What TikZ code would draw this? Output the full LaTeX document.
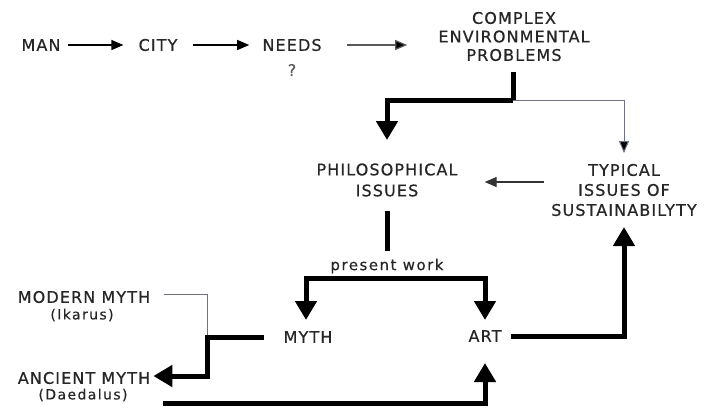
\documentclass[tikz,border=0pt]{standalone}
\usepackage{fontspec}
\newfontfamily\labfont[LetterSpace=7,FakeBold=0.6]{DejaVu Sans}
\newfontfamily\smallfont[LetterSpace=10,FakeBold=0.4]{DejaVu Sans}
\usetikzlibrary{arrows.meta}
\definecolor{linegray}{RGB}{110,114,130}
\begin{document}
\begin{tikzpicture}[x=1pt,y=-1pt,
  lab/.style={font=\labfont\fontsize{16}{20}\selectfont, inner sep=2pt, align=center, text=black!85},
  sub/.style={font=\smallfont\fontsize{14}{16}\selectfont, inner sep=1pt, align=center, text=black!85},
  thinarr/.style={line width=1.2pt, -{Triangle[width=10pt,length=12pt]}},
  thinln/.style={line width=1pt, draw=linegray},
  thickln/.style={line width=5pt},
  thickarr/.style={line width=5pt, -{Triangle[width=21pt,length=19pt]}},
]
\useasboundingbox (0,0) rectangle (704,408);
% nodes
\node[lab] (man) at (41,45) {MAN};
\node[lab] (city) at (158,45) {CITY};
\node[lab] (needs) at (292,45) {NEEDS};
\node[sub, font=\smallfont\fontsize{16}{18}\selectfont, text=black!65] (q) at (292,70) {?};
\node[lab, font=\labfont\fontsize{16}{18.5}\selectfont] (cep) at (514,36.5) {COMPLEX\\ENVIRONMENTAL\\PROBLEMS};
\node[lab, font=\labfont\fontsize{16}{21}\selectfont] (phil) at (387,180) {PHILOSOPHICAL\\ISSUES};
\node[lab] (typ) at (624,190) {TYPICAL\\ISSUES OF\\SUSTAINABILYTY};
\node[sub, font=\smallfont\fontsize{15}{16}\selectfont] (pw) at (387,266) {present work};
\node[lab] (myth) at (308,337) {MYTH};
\node[lab] (art) at (485,336) {ART};
\node[lab] (mod) at (84,297) {MODERN MYTH};
\node[sub] (ika) at (82,315) {(Ikarus)};
\node[lab] (anc) at (84,378) {ANCIENT MYTH};
\node[sub] (dae) at (83,395) {(Daedalus)};
% helper coordinates
\coordinate (c1) at (513,100);
\coordinate (tipP) at (0,140);
\coordinate (tipT) at (0,153);
\coordinate (bL) at (306,278);
\coordinate (bR) at (485,278);
\coordinate (tipM) at (0,320);
\coordinate (m1) at (207,337);
\coordinate (b0) at (163,403);
\coordinate (tipAb) at (0,363);
\coordinate (tipTy) at (0,227);
% top row
\draw[thinarr] ([xshift=5pt]man.east) -- ([xshift=-13pt]city.west);
\draw[thinarr] ([xshift=13pt]city.east) -- ([xshift=-11pt]needs.west);
\draw[thinarr, draw=black!65, -{Triangle[width=10pt,length=12pt,fill=black]}] ([xshift=23pt]needs.east) -- ([xshift=-29pt]cep.west |- needs.east);
% from complex problems
\draw[thickln] (cep.south -| c1) ++(0,9) -- (c1);
\draw[thickarr] (c1) -| (phil.north |- tipP);
\draw[thinln, -{Triangle[width=10pt,length=12pt,fill=black]}] (c1) -| (typ.north |- tipT);
% typical -> philosophical
\draw[thinarr, draw=black!80] ([xshift=-5pt]typ.west |- 0,182) -- ([xshift=25pt]phil.east |- 0,182);
% philosophical -> present work
\draw[thickln] (phil.south) ++(0,12) -- ([yshift=7pt]pw.north);
\draw[thickarr] (bR) -- (bL) -- (bL |- tipM);
\draw[thickarr] (bL) -- (bR) -- (bR |- tipM);
% myth -> ancient myth
\draw[thinln] (mod.east) ++(12,-3) -| (m1);
\draw[thickarr] (myth.west) ++(-17,0) -- (m1) |- ([xshift=1pt]anc.east |- 0,376);
% daedalus -> art
\draw[thickarr] (b0) -| (art.south |- tipAb);
% art -> typical
\draw[thickarr] (art.east) ++(7,0) -| (typ.south |- tipTy);
\end{tikzpicture}
\end{document}
